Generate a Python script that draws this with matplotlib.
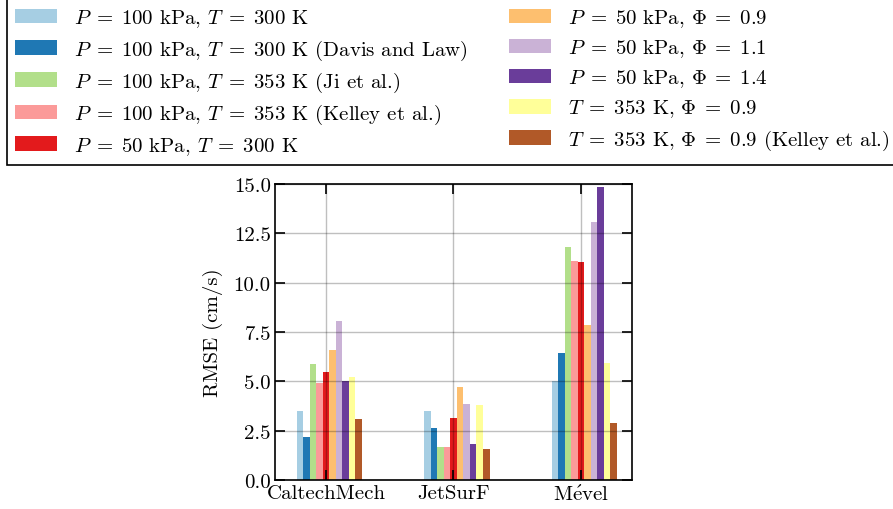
import numpy as np
import matplotlib
matplotlib.use("Agg")
import matplotlib.pyplot as plt

plt.rcParams['font.family'] = 'serif'
plt.rcParams['font.serif'] = ['cmr10']
plt.rcParams['mathtext.fontset'] = 'cm'
plt.rcParams['axes.unicode_minus'] = False
plt.rcParams['axes.formatter.use_mathtext'] = True

categories = ['CaltechMech', 'JetSurF', r'M$\mathrm{\acute{e}}$vel']

labels = [
    r'$P\;=\;100$ kPa, $T\;=\;300$ K',
    r'$P\;=\;100$ kPa, $T\;=\;300$ K (Davis and Law)',
    r'$P\;=\;100$ kPa, $T\;=\;353$ K (Ji et al.)',
    r'$P\;=\;100$ kPa, $T\;=\;353$ K (Kelley et al.)',
    r'$P\;=\;50$ kPa, $T\;=\;300$ K',
    r'$P\;=\;50$ kPa, $\Phi\;=\;0.9$',
    r'$P\;=\;50$ kPa, $\Phi\;=\;1.1$',
    r'$P\;=\;50$ kPa, $\Phi\;=\;1.4$',
    r'$T\;=\;353$ K, $\Phi\;=\;0.9$',
    r'$T\;=\;353$ K, $\Phi\;=\;0.9$ (Kelley et al.)',
]

p100_t300 = [3.50, 3.50, 5.00]
p100_t300_davis = [2.20, 2.64, 6.44]
p100_t353_ji = [5.88, 1.67, 11.81]
p100_t353_kelley = [4.92, 1.67, 11.10]
p50_t300 = [5.49, 3.14, 11.05]
p50_phi09 = [6.59, 4.71, 7.86]
p50_phi11 = [8.06, 3.85, 13.08]
p50_phi14 = [5.02, 1.82, 14.85]
t353_phi09 = [5.22, 3.80, 5.93]
t353_phi09_kelley = [3.09, 1.57, 2.89]

series = [p100_t300, p100_t300_davis, p100_t353_ji, p100_t353_kelley, p50_t300,
          p50_phi09, p50_phi11, p50_phi14, t353_phi09, t353_phi09_kelley]

paired = plt.get_cmap('Paired').colors
colors = [paired[k] for k in [0, 1, 2, 4, 5, 6, 8, 9, 10, 11]]

fig = plt.figure(figsize=(8.93, 5.10), dpi=100)
ax = fig.add_axes([275/893, 1-481/510, (632-275)/893, (481-185)/510])

x = np.arange(len(categories))
w = 0.0514
handles = []
for i, (vals, lab) in enumerate(zip(series, labels)):
    b = ax.bar(x + (i - 4) * w, vals, width=w, color=colors[i], label=lab)
    handles.append(b)

ax.set_xlim(-0.4, 2.4)
ax.set_ylim(0, 15)
ax.set_yticks([0, 2.5, 5, 7.5, 10, 12.5, 15])
ax.set_yticklabels(['0.0', '2.5', '5.0', '7.5', '10.0', '12.5', '15.0'])
ax.set_xticks(x)
ax.set_xticklabels(categories)
ax.set_ylabel('RMSE (cm/s)', fontsize=15, labelpad=8)
ax.tick_params(direction='in', which='both', top=True, right=True, length=7,
               width=1.2, labelsize=15, pad=3)
ax.grid(True, color='k', alpha=0.25, linewidth=1)
for s in ax.spines.values():
    s.set_linewidth(1.2)

leg = fig.legend(handles=handles, loc='upper left', bbox_to_anchor=(7/893, 1.0),
                 ncol=2, fontsize=15, frameon=True, fancybox=False,
                 edgecolor='k', framealpha=1, borderaxespad=0,
                 handlelength=2.0, handleheight=0.7, handletextpad=0.8,
                 columnspacing=2.0, labelspacing=0.4, borderpad=0.4)
leg.get_frame().set_linewidth(1.2)

fig.savefig('out.png', dpi=100)
